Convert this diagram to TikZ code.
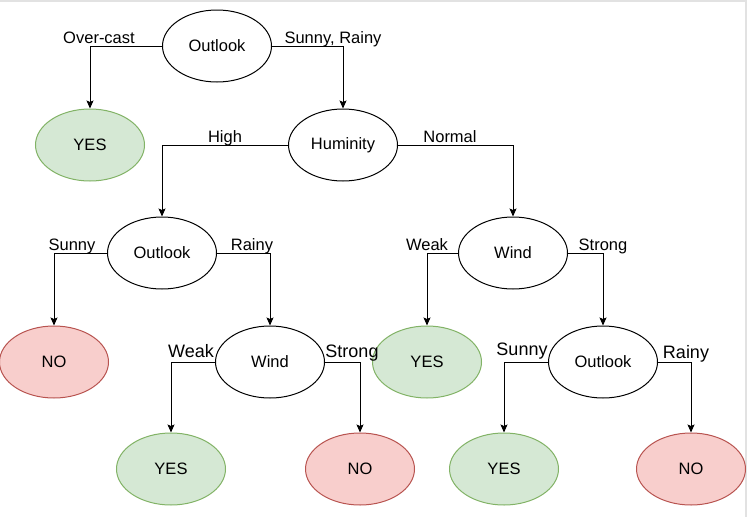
\documentclass[tikz,border=0pt]{standalone}
\usepackage{fontspec}
\setmainfont{Liberation Sans}
\usetikzlibrary{shapes.geometric,arrows.meta}
\definecolor{yesfill}{HTML}{D5E8D4}
\definecolor{yesline}{HTML}{82B366}
\definecolor{nofill}{HTML}{F8CECC}
\definecolor{noline}{HTML}{B85450}
\definecolor{frameg}{HTML}{E2E2E2}
\begin{document}
\begin{tikzpicture}[x=1pt,y=-1pt,
  dec/.style={ellipse,draw=black,fill=white,line width=1pt,minimum width=109pt,minimum height=72pt,inner sep=0pt,font=\fontsize{16.5}{18}\selectfont},
  yesnode/.style={dec,draw=yesline,fill=yesfill},
  nonode/.style={dec,draw=noline,fill=nofill},
  lbl/.style={inner sep=0pt,anchor=base,font=\fontsize{16.5}{18}\selectfont},
  lblb/.style={lbl,font=\fontsize{18}{20}\selectfont},
  conn/.style={draw=black,line width=1pt,-{Stealth[length=8pt,width=7pt,inset=1.5pt]}}
]
\useasboundingbox (0,0) rectangle (747,517);
\fill[white] (0,0) rectangle (747,517);
\fill[frameg] (0,0) rectangle (747,1.5);
\fill[frameg] (745,0) rectangle (747,517);

% nodes
\node[dec] (o1) at (217,46) {Outlook};
\node[yesnode] (y1) at (90,145) {YES};
\node[dec] (h) at (343,145) {Huminity};
\node[dec] (o2) at (162,253) {Outlook};
\node[dec] (w2) at (513,253) {Wind};
\node[nonode] (n1) at (54,362) {NO};
\node[dec] (w1) at (270,362) {Wind};
\node[yesnode] (y2) at (427,362) {YES};
\node[dec] (o3) at (603,362) {Outlook};
\node[yesnode] (y3) at (171,469) {YES};
\node[nonode] (n2) at (360,469) {NO};
\node[yesnode] (y4) at (504,469) {YES};
\node[nonode] (n3) at (691,469) {NO};

% connectors
\draw[conn] (o1.west) -| (y1.north);
\draw[conn] (o1.east) -| (h.north);
\draw[conn] (h.west) -| (o2.north);
\draw[conn] (h.east) -| (w2.north);
\draw[conn] (o2.west) -| (n1.north);
\draw[conn] (o2.east) -| (w1.north);
\draw[conn] (w2.west) -| (y2.north);
\draw[conn] (w2.east) -| (o3.north);
\draw[conn] (w1.west) -| (y3.north);
\draw[conn] (w1.east) -| (n2.north);
\draw[conn] (o3.west) -| (y4.north);
\draw[conn] (o3.east) -| (n3.north);

% labels
\node[lbl] (l1) at (99,43) {Over-cast};
\node[lbl] (l2) at (333,43) {Sunny, Rainy};
\node[lbl] (l3) at (225,142) {High};
\node[lbl] (l4) at (450,142) {Normal};
\node[lbl] (l5) at (72,250) {Sunny};
\node[lbl] (l6) at (252,250) {Rainy};
\node[lbl] (l7) at (427,250) {Weak};
\node[lbl] (l8) at (603,250) {Strong};
\node[lblb] (l9) at (191,357) {Weak};
\node[lblb] (l10) at (352,357) {Strong};
\node[lblb] (l11) at (522,355) {Sunny};
\node[lblb] (l12) at (686,358) {Rainy};
\end{tikzpicture}
\end{document}
